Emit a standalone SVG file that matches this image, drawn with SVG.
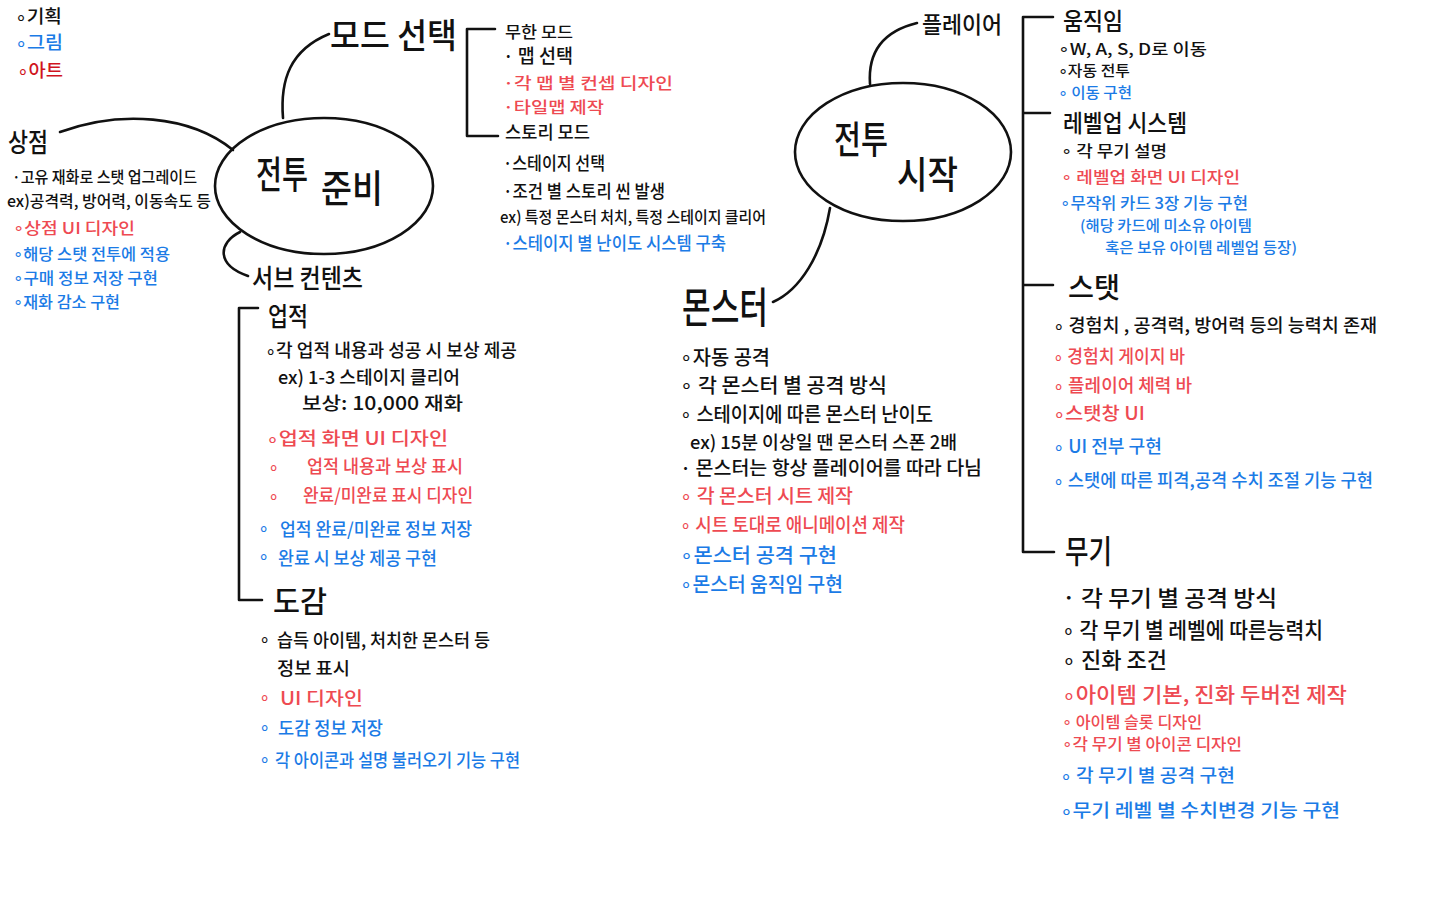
<svg xmlns="http://www.w3.org/2000/svg" width="1440" height="900" viewBox="0 0 1440 900">
<style>
text{font-family:"Noto Sans CJK KR","Noto Sans",sans-serif;font-weight:500;fill:#111}
.r{fill:#ee4a52}
.dr{fill:#d0141e}
.b{fill:#1b7be6}
.h{font-size:26px}
.s{font-size:18px}
.xs{font-size:16px}
.xxs{font-size:14.5px}
.big{font-size:38px}
.ln{fill:none;stroke:#111;stroke-width:2.6;stroke-linecap:round;stroke-linejoin:round}
</style>
<rect width="1440" height="900" fill="#fff"/>

<g id="connectors">
  <path class="ln" d="M283,118 C280,80 290,50 329,34"/>
  <path class="ln" d="M60,132 C120,110 190,115 233,150"/>
  <path class="ln" d="M240,232 C218,243 216,265 248,276"/>
  <path class="ln" d="M495,29 L467,29 L467,136 L498,136"/>
  <path class="ln" d="M258,308 L239,308 L239,600 L262,600"/>
  <path class="ln" d="M870,84 C868,55 880,32 917,23"/>
  <path class="ln" d="M830,208 C822,255 800,290 773,302"/>
  <path class="ln" d="M1053,17 L1023,17 L1023,552 L1054,552 M1023,113 L1050,113 M1023,285 L1053,285"/>
</g>

<g id="legend">
  <text class="s" x="15" y="23" textLength="47" lengthAdjust="spacingAndGlyphs">∘기획</text>
  <text class="s b" x="15" y="49" textLength="48" lengthAdjust="spacingAndGlyphs">∘그림</text>
  <text class="s dr" x="17" y="77" textLength="46" lengthAdjust="spacingAndGlyphs">∘아트</text>
</g>

<g id="node-prep">
  <ellipse cx="324" cy="186" rx="109" ry="68" fill="none" stroke="#111" stroke-width="2.6"/>
  <text class="big" x="256" y="188" textLength="52" lengthAdjust="spacingAndGlyphs">전투</text>
  <text class="big" x="321" y="202" textLength="62" lengthAdjust="spacingAndGlyphs">준비</text>
</g>

<g id="node-shop">
  <text class="h" x="8" y="152" textLength="40" lengthAdjust="spacingAndGlyphs">상점</text>
  <text class="xs" x="12" y="183" textLength="185" lengthAdjust="spacingAndGlyphs">·고유 재화로 스탯 업그레이드</text>
  <text class="xs" x="7" y="207" textLength="204" lengthAdjust="spacingAndGlyphs">ex)공격력, 방어력, 이동속도 등</text>
  <text class="xs r" x="13" y="234" textLength="122" lengthAdjust="spacingAndGlyphs">∘상점 UI 디자인</text>
  <text class="xs b" x="13" y="260" textLength="157" lengthAdjust="spacingAndGlyphs">∘해당 스탯 전투에 적용</text>
  <text class="xs b" x="13" y="284" textLength="145" lengthAdjust="spacingAndGlyphs">∘구매 정보 저장 구현</text>
  <text class="xs b" x="13" y="308" textLength="107" lengthAdjust="spacingAndGlyphs">∘재화 감소 구현</text>
</g>

<g id="node-mode">
  <text style="font-size:34px" x="330" y="48" textLength="127" lengthAdjust="spacingAndGlyphs">모드 선택</text>
  <text class="xs" x="505" y="38" textLength="68" lengthAdjust="spacingAndGlyphs">무한 모드</text>
  <text style="font-size:19px" x="503" y="63" textLength="70" lengthAdjust="spacingAndGlyphs">· 맵 선택</text>
  <text class="xs r" x="503" y="89" textLength="170" lengthAdjust="spacingAndGlyphs">·각 맵 별 컨셉 디자인</text>
  <text class="xs r" x="503" y="113" textLength="101" lengthAdjust="spacingAndGlyphs">·타일맵 제작</text>
  <text class="s" x="505" y="139" textLength="85" lengthAdjust="spacingAndGlyphs">스토리 모드</text>
  <text class="s" x="503" y="170" textLength="102" lengthAdjust="spacingAndGlyphs">·스테이지 선택</text>
  <text class="s" x="503" y="198" textLength="162" lengthAdjust="spacingAndGlyphs">·조건 별 스토리 씬 발생</text>
  <text class="xs" x="500" y="223" textLength="266" lengthAdjust="spacingAndGlyphs">ex) 특정 몬스터 처치, 특정 스테이지 클리어</text>
  <text class="s b" x="503" y="250" textLength="223" lengthAdjust="spacingAndGlyphs">·스테이지 별 난이도 시스템 구축</text>
</g>

<g id="node-sub">
  <text class="h" x="252" y="288" textLength="111" lengthAdjust="spacingAndGlyphs">서브 컨텐츠</text>
  <text class="h" x="268" y="326" textLength="40" lengthAdjust="spacingAndGlyphs">업적</text>
  <text class="s" x="265" y="357" textLength="252" lengthAdjust="spacingAndGlyphs">∘각 업적 내용과 성공 시 보상 제공</text>
  <text class="s" x="278" y="384" textLength="182" lengthAdjust="spacingAndGlyphs">ex) 1-3 스테이지 클리어</text>
  <text class="s" x="302" y="410" textLength="161" lengthAdjust="spacingAndGlyphs">보상: 10,000 재화</text>
  <text class="s r" x="266" y="445" textLength="182" lengthAdjust="spacingAndGlyphs">∘업적 화면 UI 디자인</text>
  <text class="s r" x="268" y="473">∘</text>
  <text class="s r" x="307" y="473" textLength="156" lengthAdjust="spacingAndGlyphs">업적 내용과 보상 표시</text>
  <text class="s r" x="268" y="502">∘</text>
  <text class="s r" x="303" y="502" textLength="170" lengthAdjust="spacingAndGlyphs">완료/미완료 표시 디자인</text>
  <text class="s b" x="258" y="534">∘</text>
  <text class="s b" x="280" y="536" textLength="192" lengthAdjust="spacingAndGlyphs">업적 완료/미완료 정보 저장</text>
  <text class="s b" x="258" y="562">∘</text>
  <text class="s b" x="278" y="565" textLength="159" lengthAdjust="spacingAndGlyphs">완료 시 보상 제공 구현</text>
  <text style="font-size:30px" x="273" y="612" textLength="54" lengthAdjust="spacingAndGlyphs">도감</text>
  <text class="s" x="259" y="645">∘</text>
  <text class="s" x="277" y="647" textLength="213" lengthAdjust="spacingAndGlyphs">습득 아이템, 처치한 몬스터 등</text>
  <text class="s" x="277" y="675" textLength="73" lengthAdjust="spacingAndGlyphs">정보 표시</text>
  <text class="s r" x="259" y="703">∘</text>
  <text class="s r" x="280" y="705" textLength="83" lengthAdjust="spacingAndGlyphs">UI 디자인</text>
  <text class="s b" x="259" y="733">∘</text>
  <text class="s b" x="278" y="735" textLength="105" lengthAdjust="spacingAndGlyphs">도감 정보 저장</text>
  <text class="s b" x="259" y="765">∘</text>
  <text class="s b" x="275" y="767" textLength="245" lengthAdjust="spacingAndGlyphs">각 아이콘과 설명 불러오기 기능 구현</text>
</g>

<g id="node-start">
  <ellipse cx="903" cy="152" rx="108" ry="69" fill="none" stroke="#111" stroke-width="2.6"/>
  <text class="big" x="834" y="153" textLength="54" lengthAdjust="spacingAndGlyphs">전투</text>
  <text class="big" x="897" y="188" textLength="61" lengthAdjust="spacingAndGlyphs">시작</text>
</g>

<g id="node-monster">
  <text style="font-size:42px" x="682" y="323" textLength="86" lengthAdjust="spacingAndGlyphs">몬스터</text>
  <text style="font-size:20px" x="680" y="365" textLength="90" lengthAdjust="spacingAndGlyphs">∘자동 공격</text>
  <text style="font-size:20px" x="680" y="393" textLength="207" lengthAdjust="spacingAndGlyphs">∘ 각 몬스터 별 공격 방식</text>
  <text style="font-size:20px" x="680" y="422" textLength="253" lengthAdjust="spacingAndGlyphs">∘ 스테이지에 따른 몬스터 난이도</text>
  <text style="font-size:18px" x="690" y="449" textLength="267" lengthAdjust="spacingAndGlyphs">ex) 15분 이상일 땐 몬스터 스폰 2배</text>
  <text style="font-size:19px" x="680" y="475" textLength="302" lengthAdjust="spacingAndGlyphs">· 몬스터는 항상 플레이어를 따라 다님</text>
  <text style="font-size:19px" class="r" x="680" y="503" textLength="173" lengthAdjust="spacingAndGlyphs">∘ 각 몬스터 시트 제작</text>
  <text style="font-size:19px" class="r" x="680" y="532" textLength="225" lengthAdjust="spacingAndGlyphs">∘ 시트 토대로 애니메이션 제작</text>
  <text style="font-size:20px" class="b" x="680" y="563" textLength="157" lengthAdjust="spacingAndGlyphs">∘몬스터 공격 구현</text>
  <text style="font-size:20px" class="b" x="680" y="592" textLength="163" lengthAdjust="spacingAndGlyphs">∘몬스터 움직임 구현</text>
</g>

<g id="node-player">
  <text style="font-size:23px" x="922" y="33" textLength="80" lengthAdjust="spacingAndGlyphs">플레이어</text>
  <text style="font-size:24px" x="1063" y="30" textLength="60" lengthAdjust="spacingAndGlyphs">움직임</text>
  <text class="xs" x="1058" y="55" textLength="149" lengthAdjust="spacingAndGlyphs">∘W, A, S, D로 이동</text>
  <text class="xxs" x="1058" y="76" textLength="72" lengthAdjust="spacingAndGlyphs">∘자동 전투</text>
  <text class="xxs b" x="1058" y="98" textLength="74" lengthAdjust="spacingAndGlyphs">∘ 이동 구현</text>
  <text style="font-size:24px" x="1063" y="132" textLength="124" lengthAdjust="spacingAndGlyphs">레벨업 시스템</text>
  <text class="xs" x="1061" y="157" textLength="106" lengthAdjust="spacingAndGlyphs">∘ 각 무기 설명</text>
  <text class="xs r" x="1061" y="183" textLength="179" lengthAdjust="spacingAndGlyphs">∘ 레벨업 화면 UI 디자인</text>
  <text class="xs b" x="1060" y="209" textLength="188" lengthAdjust="spacingAndGlyphs">∘무작위 카드 3장 기능 구현</text>
  <text class="xxs b" x="1080" y="231" textLength="172" lengthAdjust="spacingAndGlyphs">(해당 카드에 미소유 아이템</text>
  <text class="xxs b" x="1105" y="253" textLength="192" lengthAdjust="spacingAndGlyphs">혹은 보유 아이템 레벨업 등장)</text>
  <text style="font-size:28px" x="1068" y="298" textLength="52" lengthAdjust="spacingAndGlyphs">스탯</text>
  <text class="s" x="1053" y="332" textLength="324" lengthAdjust="spacingAndGlyphs">∘ 경험치 , 공격력, 방어력 등의 능력치 존재</text>
  <text class="s r" x="1053" y="363" textLength="132" lengthAdjust="spacingAndGlyphs">∘ 경험치 게이지 바</text>
  <text class="s r" x="1053" y="392" textLength="139" lengthAdjust="spacingAndGlyphs">∘ 플레이어 체력 바</text>
  <text class="s r" x="1053" y="420" textLength="92" lengthAdjust="spacingAndGlyphs">∘스탯창 UI</text>
  <text class="s b" x="1053" y="453" textLength="109" lengthAdjust="spacingAndGlyphs">∘ UI 전부 구현</text>
  <text class="s b" x="1053" y="487" textLength="320" lengthAdjust="spacingAndGlyphs">∘ 스탯에 따른 피격,공격 수치 조절 기능 구현</text>
  <text style="font-size:32px" x="1065" y="563" textLength="47" lengthAdjust="spacingAndGlyphs">무기</text>
  <text style="font-size:22px" x="1062" y="606" textLength="215" lengthAdjust="spacingAndGlyphs">· 각 무기 별 공격 방식</text>
  <text style="font-size:22px" x="1062" y="638" textLength="261" lengthAdjust="spacingAndGlyphs">∘ 각 무기 별 레벨에 따른능력치</text>
  <text style="font-size:22px" x="1062" y="668" textLength="105" lengthAdjust="spacingAndGlyphs">∘ 진화 조건</text>
  <text style="font-size:21px" class="r" x="1062" y="702" textLength="285" lengthAdjust="spacingAndGlyphs">∘아이템 기본, 진화 두버전 제작</text>
  <text class="xs r" x="1062" y="728" textLength="140" lengthAdjust="spacingAndGlyphs">∘ 아이템 슬롯 디자인</text>
  <text class="xs r" x="1062" y="750" textLength="180" lengthAdjust="spacingAndGlyphs">∘각 무기 별 아이콘 디자인</text>
  <text class="s b" x="1060" y="782" textLength="175" lengthAdjust="spacingAndGlyphs">∘ 각 무기 별 공격 구현</text>
  <text class="s b" x="1060" y="817" textLength="280" lengthAdjust="spacingAndGlyphs">∘무기 레벨 별 수치변경 기능 구현</text>
</g>
</svg>
